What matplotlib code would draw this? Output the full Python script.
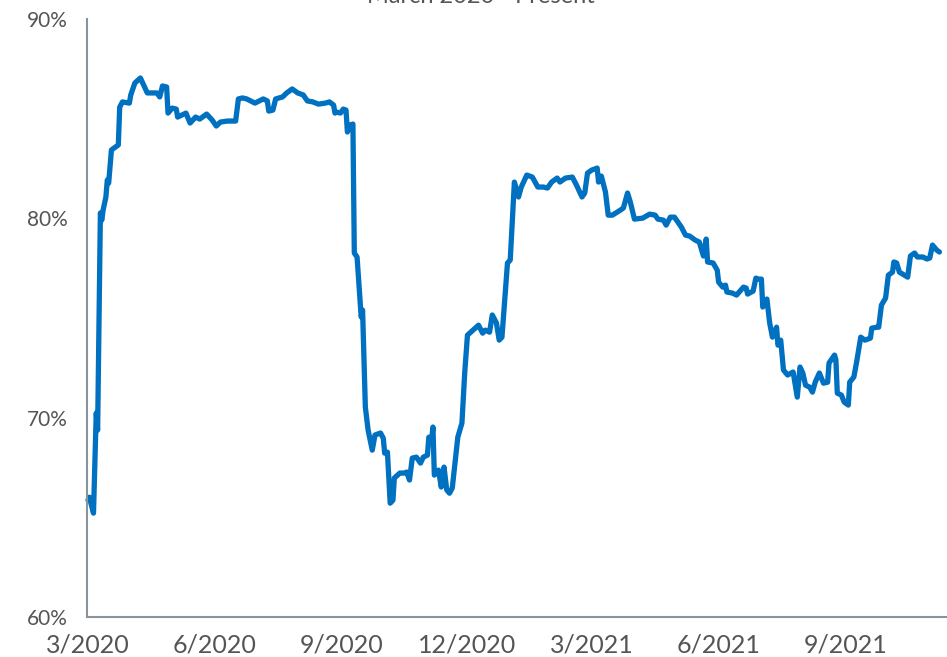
import matplotlib
matplotlib.use("Agg")
import matplotlib.pyplot as plt
import pandas as pd
from matplotlib.ticker import FuncFormatter

title = "March 2020 - Present"
start_date = "2020-03-01"

# observation dates, as days since start_date
day_offsets = [
    0, 1, 4, 6, 7, 9, 10, 11, 13, 14, 15, 17, 22, 23, 25, 30, 31, 34, 38, 43,
    50, 52, 54, 57, 58, 61, 64, 65, 68, 71, 74, 78, 81, 86, 90, 93, 96, 101, 107, 109,
    112, 115, 121, 127, 130, 131, 134, 136, 141, 144, 148, 152, 156, 159, 163, 167, 172, 175, 178, 179,
    180, 183, 185, 187, 188, 190, 192, 193, 195, 198, 199, 201, 203, 206, 208, 212, 214, 215, 217, 219,
    221, 222, 226, 229, 231, 233, 235, 238, 241, 243, 246, 247, 249, 250, 251, 254, 256, 258, 260, 262,
    264, 266, 268, 271, 273, 275, 279, 283, 286, 288, 291, 293, 296, 298, 300, 304, 306, 309, 312, 314,
    318, 322, 326, 330, 333, 336, 340, 342, 346, 351, 354, 358, 360, 362, 365, 369, 370, 372, 375, 377,
    380, 386, 388, 391, 393, 396, 402, 407, 411, 413, 417, 419, 422, 425, 428, 430, 433, 436, 440, 443,
    446, 448, 449, 453, 456, 457, 460, 462, 463, 467, 470, 475, 477, 478, 482, 484, 486, 488, 489, 492,
    494, 496, 499, 500, 502, 504, 507, 511, 514, 516, 518, 520, 523, 525, 527, 530, 533, 536, 537, 541,
    542, 543, 546, 548, 551, 552, 555, 557, 560, 563, 567, 568, 572, 573, 575, 578, 580, 583, 584, 586,
    588, 594, 596, 599, 601, 605, 608, 610, 612, 615, 617,
]

values = [
    65.86, 66.01, 65.21, 70.23, 69.38, 80.27, 79.91, 80.42, 81.07, 81.92, 81.77, 83.43, 83.68, 85.58, 85.84, 85.78, 86.19, 86.79, 87.04, 86.29,
    86.29, 86.09, 86.64, 86.59, 85.28, 85.53, 85.48, 85.08, 85.18, 85.28, 84.78, 85.08, 84.98, 85.23, 84.93, 84.63, 84.83, 84.88, 84.88, 85.99,
    86.04, 85.99, 85.78, 85.99, 85.89, 85.38, 85.43, 85.99, 86.09, 86.29, 86.49, 86.29, 86.19, 85.89, 85.84, 85.73, 85.78, 85.84, 85.68, 85.28,
    85.33, 85.28, 85.48, 85.43, 84.33, 84.68, 84.73, 78.26, 78.06, 75.05, 75.40, 70.53, 69.38, 68.37, 69.13, 69.23, 68.97, 68.22, 68.27, 65.71,
    65.86, 66.97, 67.22, 67.22, 67.27, 66.87, 67.97, 68.02, 67.72, 68.02, 68.12, 69.02, 68.87, 69.53, 67.12, 67.37, 66.52, 67.52, 66.37, 66.21,
    66.47, 67.72, 69.02, 69.73, 72.24, 74.14, 74.39, 74.64, 74.24, 74.39, 74.29, 75.15, 74.75, 73.89, 74.04, 77.76, 77.91, 81.82, 81.07, 81.57,
    82.17, 82.07, 81.57, 81.57, 81.52, 81.82, 82.02, 81.82, 82.02, 82.07, 81.67, 81.07, 81.27, 82.27, 82.42, 82.52, 81.82, 82.12, 81.32, 80.16,
    80.16, 80.42, 80.52, 81.27, 80.82, 79.96, 80.01, 80.21, 80.16, 79.96, 79.91, 79.66, 80.06, 80.06, 79.76, 79.56, 79.16, 79.11, 78.91, 78.81,
    78.11, 78.96, 77.81, 77.76, 77.40, 76.80, 76.55, 76.65, 76.30, 76.25, 76.15, 76.55, 76.50, 76.20, 76.35, 77.00, 76.95, 76.95, 75.55, 75.95,
    74.75, 74.04, 74.54, 73.64, 73.89, 72.39, 72.14, 72.29, 71.03, 72.54, 72.24, 71.63, 71.53, 71.28, 71.78, 72.24, 71.73, 71.78, 72.74, 73.14,
    72.89, 71.23, 71.13, 70.78, 70.63, 71.78, 72.04, 72.79, 74.04, 73.89, 73.99, 74.49, 74.54, 74.54, 75.65, 76.00, 77.15, 77.30, 77.81, 77.76,
    77.30, 77.05, 78.11, 78.26, 78.06, 78.06, 77.96, 78.01, 78.66, 78.41, 78.31,
]

x_tick_dates = ["2020-03-01", "2020-06-01", "2020-09-01", "2020-12-01",
                "2021-03-01", "2021-06-01", "2021-09-01"]
x_tick_labels = ["3/2020", "6/2020", "9/2020", "12/2020", "3/2021", "6/2021", "9/2021"]
y_ticks = [60, 70, 80, 90]

plt.rcParams['font.family'] = ['Lato', 'DejaVu Sans']

dates = pd.Timestamp(start_date) + pd.to_timedelta(day_offsets, unit="D")

fig = plt.figure(figsize=(9.47, 6.57), dpi=100)
ax = fig.add_axes([87 / 947, 40 / 657, 860 / 947, 598 / 657])

ax.plot(dates, values, color="#0070C0", linewidth=3.8, solid_joinstyle="round",
        solid_capstyle="round", clip_on=False)

ax.set_ylim(60, 90)
ax.set_yticks(y_ticks)
ax.yaxis.set_major_formatter(FuncFormatter(lambda v, p: f"{v:.0f}%"))
ax.set_xlim(pd.Timestamp(start_date) - pd.Timedelta(days=0.7),
            pd.Timestamp(start_date) + pd.Timedelta(days=622.5))
ax.set_xticks(pd.to_datetime(x_tick_dates))
ax.set_xticklabels(x_tick_labels)

for s in ["top", "right"]:
    ax.spines[s].set_visible(False)
for s in ["left", "bottom"]:
    ax.spines[s].set_color("#8a939c")
    ax.spines[s].set_linewidth(1.5)

ax.tick_params(axis="both", length=0, colors="#555555")
ax.tick_params(axis="y", labelsize=15, pad=14)
ax.tick_params(axis="x", labelsize=18, pad=12)

fig.text(481 / 947, 1 - 3 / 657, title, ha="center", va="baseline",
         fontsize=17, color="#555555")

fig.savefig("out.png", dpi=100)
